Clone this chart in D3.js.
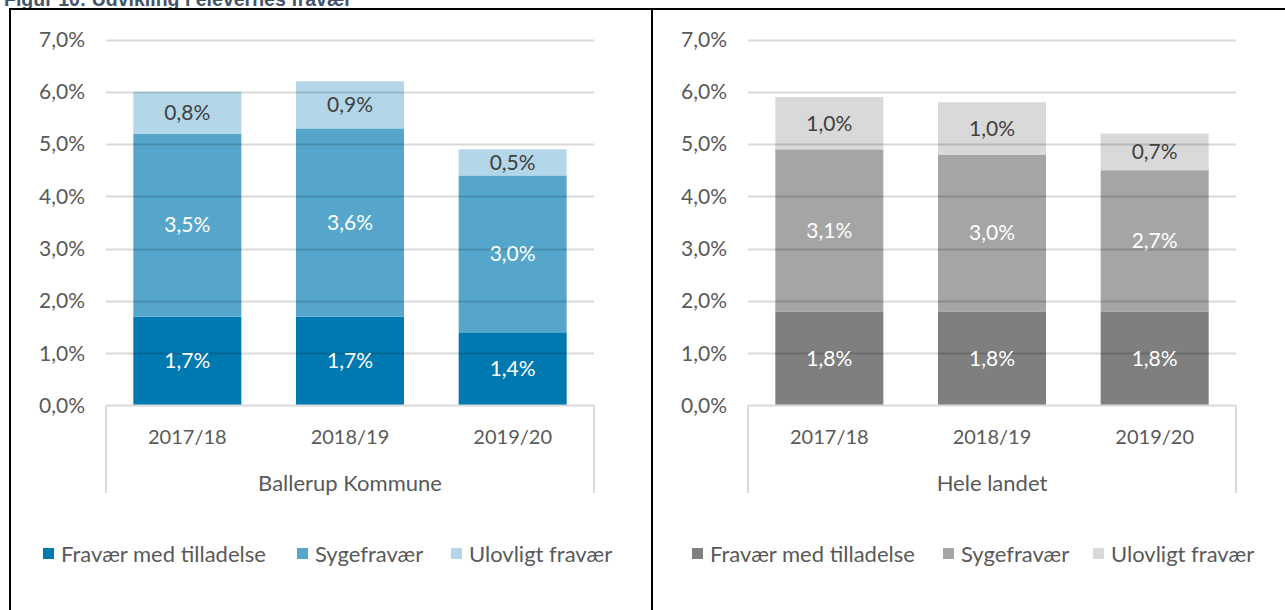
<!DOCTYPE html>
<html>
<head>
<meta charset="utf-8">
<script src="https://cdn.jsdelivr.net/npm/d3@7"></script>
<style>
  html, body { margin: 0; padding: 0; background: #fff; }
  svg { display: block; font-family: Lato, "Open Sans", sans-serif; }
</style>
</head>
<body>
<div id="chart"></div>
<script>
// categories and series
const categories = ["2017/18", "2018/19", "2019/20"];
const seriesNames = ["Fravær med tilladelse", "Sygefravær", "Ulovligt fravær"];
const yTicks = [0, 1, 2, 3, 4, 5, 6, 7];

// Ballerup Kommune (percent)
const ballerupMedTilladelse = [1.7, 1.7, 1.4];
const ballerupSyge = [3.5, 3.6, 3.0];
const ballerupUlovligt = [0.8, 0.9, 0.5];

// Hele landet (percent)
const landetMedTilladelse = [1.8, 1.8, 1.8];
const landetSyge = [3.1, 3.0, 2.7];
const landetUlovligt = [1.0, 1.0, 0.7];

const width = 1285, height = 610;
const tickSize = 21, catSize = 20, groupSize = 22, legendSize = 22;
const fmt = v => d3.format(".1f")(v).replace(".", ",") + "%";

const svg = d3.select("#chart").append("svg")
  .attr("width", width)
  .attr("height", height);

// title (mostly cut off at the top of the picture, as in the source)
svg.append("text")
  .attr("x", 4)
  .attr("y", 6)
  .attr("fill", "#44546a")
  .style("font-family", "Liberation Sans, Arial, sans-serif")
  .style("font-weight", "bold")
  .style("font-size", "19.5px")
  .text("Figur 10: Udvikling i elevernes fravær");

// panel frames
svg.append("line").attr("x1", 9).attr("x2", width).attr("y1", 9).attr("y2", 9)
  .attr("stroke", "#000").attr("stroke-width", 2);
svg.append("line").attr("x1", 10).attr("x2", 10).attr("y1", 9).attr("y2", height)
  .attr("stroke", "#000").attr("stroke-width", 2);
svg.append("line").attr("x1", 652).attr("x2", 652).attr("y1", 9).attr("y2", height)
  .attr("stroke", "#000").attr("stroke-width", 2);

function drawPanel({ left, groupLabel, series, colors, labelColors, legendX }) {
  const plotLeft = left, plotRight = left + 488;
  const y0 = 405.5, yTop = 39.5;

  const x = d3.scaleBand().domain(categories).range([plotLeft, plotRight]).paddingInner(0.336).paddingOuter(0.168);
  const y = d3.scaleLinear().domain([0, 7]).range([y0, yTop]);

  const rows = categories.map((c, i) => {
    const r = { cat: c };
    seriesNames.forEach((s, k) => r[s] = series[k][i]);
    return r;
  });
  const stacked = d3.stack().keys(seriesNames)(rows);

  const g = svg.append("g");

  // y tick labels
  g.selectAll(".ytick").data(yTicks).join("text")
    .attr("x", plotLeft - 21)
    .attr("y", d => y(d))
    .attr("dy", "0.35em")
    .attr("text-anchor", "end")
    .attr("fill", "#595959")
    .style("font-size", tickSize + "px")
    .text(d => fmt(d));

  // bars
  g.selectAll(".layer").data(stacked).join("g")
    .attr("fill", (d, i) => colors[i])
    .selectAll("rect").data(d => d).join("rect")
    .attr("x", d => x(d.data.cat))
    .attr("width", x.bandwidth())
    .attr("y", d => y(d[1]))
    .attr("height", d => y(d[0]) - y(d[1]));

  // gridlines, drawn over the bars so they show faintly through
  g.selectAll(".grid").data(yTicks.filter(t => t > 0)).join("line")
    .attr("x1", plotLeft).attr("x2", plotRight)
    .attr("y1", d => Math.round(y(d)) + 0.5).attr("y2", d => Math.round(y(d)) + 0.5)
    .attr("stroke", "#000").attr("stroke-opacity", 0.15).attr("stroke-width", 2);

  // category axis box
  const axisColor = "#d9d9d9";
  g.append("line").attr("x1", plotLeft).attr("x2", plotRight).attr("y1", y0).attr("y2", y0)
    .attr("stroke", axisColor).attr("stroke-width", 2);
  [plotLeft, plotRight].forEach(xx => {
    g.append("line").attr("x1", xx).attr("x2", xx).attr("y1", y0).attr("y2", 493)
      .attr("stroke", axisColor).attr("stroke-width", 2);
  });

  // data labels
  g.selectAll(".lbl-layer").data(stacked).join("g")
    .attr("fill", (d, i) => labelColors[i])
    .selectAll("text").data(d => d).join("text")
    .attr("x", d => x(d.data.cat) + x.bandwidth() / 2)
    .attr("y", d => y((d[0] + d[1]) / 2))
    .attr("dy", "0.35em")
    .attr("text-anchor", "middle")
    .style("font-size", tickSize + "px")
    .text(d => fmt(d[1] - d[0]));

  // category labels
  g.selectAll(".cat").data(categories).join("text")
    .attr("x", d => x(d) + x.bandwidth() / 2)
    .attr("y", 437)
    .attr("dy", "0.35em")
    .attr("text-anchor", "middle")
    .attr("fill", "#595959")
    .style("font-size", catSize + "px")
    .text(d => d);

  g.append("text")
    .attr("x", (plotLeft + plotRight) / 2)
    .attr("y", 483)
    .attr("dy", "0.35em")
    .attr("text-anchor", "middle")
    .attr("fill", "#595959")
    .style("font-size", groupSize + "px")
    .text(groupLabel);

  // legend
  const leg = g.selectAll(".leg").data(seriesNames).join("g")
    .attr("transform", (d, i) => `translate(${legendX[i]},554)`);
  leg.append("rect").attr("x", 0).attr("y", -6).attr("width", 11).attr("height", 11)
    .attr("fill", (d, i) => colors[i]);
  leg.append("text").attr("x", 18).attr("dy", "0.35em")
    .attr("fill", "#595959")
    .style("font-size", legendSize + "px")
    .text(d => d);
}

drawPanel({
  left: 106,
  groupLabel: "Ballerup Kommune",
  series: [ballerupMedTilladelse, ballerupSyge, ballerupUlovligt],
  colors: ["#0079b0", "#56a6cc", "#b3d7e8"],
  labelColors: ["#fff", "#fff", "#404040"],
  legendX: [43, 297, 451]
});

drawPanel({
  left: 748,
  groupLabel: "Hele landet",
  series: [landetMedTilladelse, landetSyge, landetUlovligt],
  colors: ["#7f7f7f", "#a5a5a5", "#d9d9d9"],
  labelColors: ["#fff", "#fff", "#404040"],
  legendX: [692, 943, 1093]
});
</script>
</body>
</html>
